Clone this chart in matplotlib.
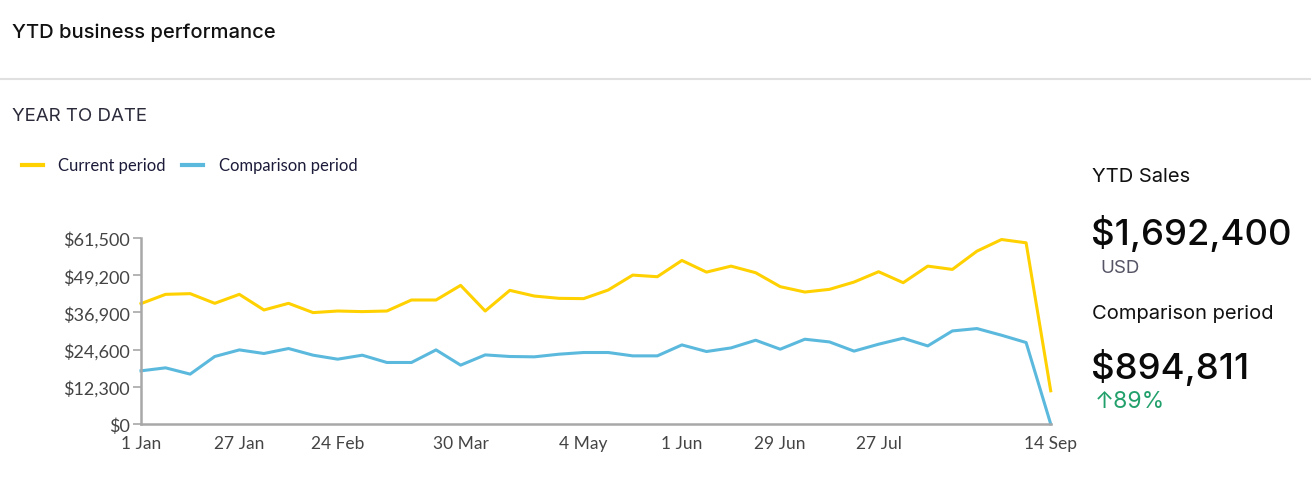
import matplotlib
matplotlib.use('Agg')
import matplotlib.pyplot as plt
from matplotlib.lines import Line2D
from matplotlib.ticker import FuncFormatter

# data (weekly buckets)
current = [39800, 42870, 43100, 39900, 42870, 37700, 39900, 36830, 37360, 37160,
           37360, 41000, 41000, 45840, 37360, 44190, 42310, 41550, 41450, 44290,
           49230, 48700, 54080, 50220, 52200, 50020, 45410, 43630, 44520, 46930,
           50350, 46720, 52200, 51110, 57150, 61000, 59910, 10980]
comparison = [17580, 18570, 16490, 22320, 24500, 23310, 24960, 22750, 21430, 22750,
              20340, 20340, 24500, 19460, 22850, 22320, 22210, 23080, 23640, 23640,
              22530, 22530, 26150, 23970, 25160, 27700, 24730, 28030, 27140, 24100,
              26380, 28360, 25820, 30770, 31560, 29350, 26940, 0]
tick_idx = [0, 4, 8, 13, 18, 22, 26, 30, 37]
tick_labels = ['1 Jan', '27 Jan', '24 Feb', '30 Mar', '4 May', '1 Jun', '29 Jun', '27 Jul', '14 Sep']
y_ticks = [0, 12300, 24600, 36900, 49200, 61500]

YELLOW = '#FFD100'
BLUE = '#5BB9DD'
W, H = 1311, 489

fig = plt.figure(figsize=(W / 100, H / 100), dpi=100)
fig.patch.set_facecolor('white')


def px(x, y):
    return x / W, 1 - y / H


# header
fig.text(*px(12, 33), 'YTD business performance', fontsize=14.5, family='Inter',
         color='#111111', va='center', ha='left', fontweight='medium')
fig.add_artist(Line2D([0, 1], [1 - 80 / H] * 2, color='#e0e0e0', lw=1.5))
fig.text(*px(12, 117), 'YEAR TO DATE', fontsize=13.5, family='Inter',
         color='#2a2a3a', va='center', ha='left')

# legend
fig.add_artist(Line2D([22 / W, 43 / W], [1 - 166 / H] * 2, color=YELLOW, lw=3))
fig.text(*px(58, 166), 'Current period', fontsize=12, family='Lato',
         color='#1c1c3a', va='center')
fig.add_artist(Line2D([182 / W, 203 / W], [1 - 166 / H] * 2, color=BLUE, lw=3))
fig.text(*px(219, 166), 'Comparison period', fontsize=12, family='Lato',
         color='#1c1c3a', va='center')

# chart
ax = fig.add_axes([141 / W, (H - 425) / H, (1050.7 - 141) / W, 186 / H])
x = list(range(len(current)))
ax.plot(x, current, color=YELLOW, lw=2.2, solid_joinstyle='round', clip_on=False)
ax.plot(x, comparison, color=BLUE, lw=2.2, solid_joinstyle='round', clip_on=False)

ax.set_xlim(0, len(current) - 1)
ax.set_ylim(0, 61500)
ax.set_yticks(y_ticks)
ax.yaxis.set_major_formatter(FuncFormatter(lambda v, p: f'${v:,.0f}'))
ax.set_xticks(tick_idx)
ax.set_xticklabels(tick_labels)
for s in ['top', 'right']:
    ax.spines[s].set_visible(False)
for s in ['left', 'bottom']:
    ax.spines[s].set_color('#a8a8a8')
    ax.spines[s].set_linewidth(1.8)
ax.tick_params(axis='y', length=6, width=1.2, color='#a8a8a8', pad=2,
               labelsize=13, labelcolor='#444444')
ax.tick_params(axis='x', length=0, pad=8, labelsize=12.5, labelcolor='#444444')
for lab in ax.get_xticklabels() + ax.get_yticklabels():
    lab.set_family('Lato')
ax.grid(False)
ax.set_facecolor('white')

# right panel
fig.text(*px(1092, 177), 'YTD Sales', fontsize=14.5, family='Inter',
         color='#111111', va='center')
fig.text(*px(1091, 233), '$1,692,400', fontsize=26.3, family='Inter',
         color='#0a0a0a', va='center', fontweight='medium')
fig.text(*px(1100, 269), 'USD', fontsize=13.5, family='Inter',
         color='#555566', va='center')
fig.text(*px(1092, 314), 'Comparison period', fontsize=14.5, family='Inter',
         color='#111111', va='center')
fig.text(*px(1091, 368), '$894,811', fontsize=26.3, family='Inter',
         color='#0a0a0a', va='center', fontweight='medium')
fig.text(*px(1095, 402), '↑89%', fontsize=16.5, family=['Inter', 'DejaVu Sans'],
         color='#22a06b', va='center')

fig.savefig('out.png', dpi=100, facecolor='white')
